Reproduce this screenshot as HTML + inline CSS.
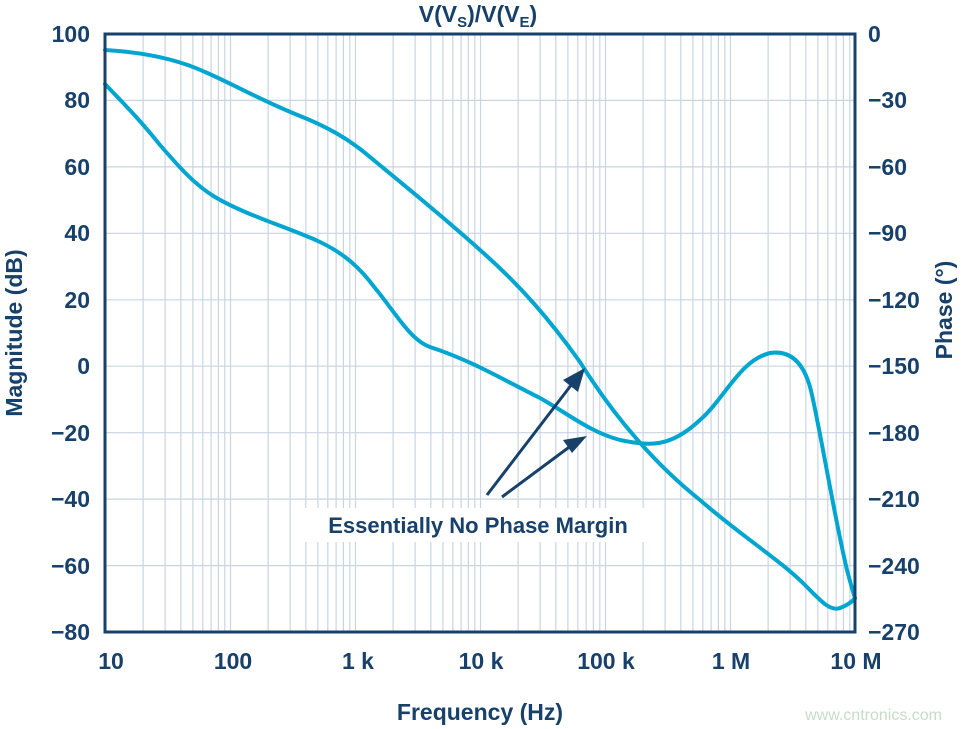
<!DOCTYPE html>
<html><head><style>body{margin:0;background:#fff}svg{display:block}text{font-family:"Liberation Sans",sans-serif;font-weight:bold;fill:#17406a}</style></head>
<body>
<svg width="963" height="729" viewBox="0 0 963 729" xmlns="http://www.w3.org/2000/svg">
<path fill="none" stroke="#c9d5e2" stroke-width="1.2" d="M143.1,34V632M165.1,34V632M180.8,34V632M192.9,34V632M202.8,34V632M211.1,34V632M218.4,34V632M224.8,34V632M230.5,34V632
M268.1,34V632M290.1,34V632M305.8,34V632M317.9,34V632M327.8,34V632M336.1,34V632M343.4,34V632M349.8,34V632M355.5,34V632
M393.1,34V632M415.1,34V632M430.8,34V632M442.9,34V632M452.8,34V632M461.1,34V632M468.4,34V632M474.8,34V632M480.5,34V632
M518.1,34V632M540.1,34V632M555.8,34V632M567.9,34V632M577.8,34V632M586.1,34V632M593.4,34V632M599.8,34V632M605.5,34V632
M643.1,34V632M665.1,34V632M680.8,34V632M692.9,34V632M702.8,34V632M711.1,34V632M718.4,34V632M724.8,34V632M730.5,34V632
M768.1,34V632M790.1,34V632M805.8,34V632M817.9,34V632M827.8,34V632M836.1,34V632M843.4,34V632M849.8,34V632
M105,100.4H855M105,166.9H855M105,233.3H855M105,299.8H855M105,366.2H855M105,432.7H855M105,499.1H855M105,565.6H855"/>
<g fill="none" stroke="#00a6d0" stroke-width="4" stroke-linejoin="round" stroke-linecap="round">
<path d="M105,50 C140,52 175,58 205,72 C235,85 260,100 300,116 C330,128 350,140 370,157 C400,182 440,214 480,250 C520,285 550,320 580,362 C610,410 650,460 700,500 C740,535 780,560 805,585 C820,600 830,612 840,608 C848,605 852,602 855,598"/>
<path d="M105,84 C125,105 140,120 160,145 C180,168 195,185 215,197 C245,215 290,228 320,242 C345,254 360,268 375,288 C395,312 410,340 430,347 C470,360 500,378 540,398 C570,415 590,432 620,440 C650,446 670,448 700,420 C725,398 740,360 770,353 C790,350 805,362 812,395 C822,440 835,520 847,570 C851,585 853,592 855,598"/>
</g>
<rect x="105" y="34" width="750" height="598" fill="none" stroke="#17406a" stroke-width="3"/>
<g stroke="#17406a" stroke-width="3"><line x1="487" y1="495" x2="572" y2="384"/><line x1="502" y1="497" x2="572" y2="445"/></g>
<g fill="#17406a"><polygon points="585,368 563,380 578,392"/><polygon points="587,436 563,440 572,453"/></g>
<rect x="302" y="508" width="352" height="34" fill="#fff"/>
<text x="478" y="533" font-size="22" text-anchor="middle">Essentially No Phase Margin</text>
<text x="478" y="22" font-size="23" text-anchor="middle">V(V<tspan font-size="15" dy="5">S</tspan><tspan dy="-5">)/V(V</tspan><tspan font-size="15" dy="5">E</tspan><tspan dy="-5">)</tspan></text>
<g font-size="23" text-anchor="end">
<text x="90" y="42">100</text><text x="90" y="108">80</text><text x="90" y="175">60</text><text x="90" y="241">40</text><text x="90" y="308">20</text><text x="90" y="374">0</text><text x="90" y="441">−20</text><text x="90" y="507">−40</text><text x="90" y="574">−60</text><text x="90" y="640">−80</text>
</g>
<g font-size="23" text-anchor="start">
<text x="868" y="42">0</text><text x="868" y="108">−30</text><text x="868" y="175">−60</text><text x="868" y="241">−90</text><text x="868" y="308">−120</text><text x="868" y="374">−150</text><text x="868" y="441">−180</text><text x="868" y="507">−210</text><text x="868" y="574">−240</text><text x="868" y="640">−270</text>
</g>
<g font-size="23" text-anchor="middle">
<text x="111" y="669">10</text><text x="233" y="669">100</text><text x="358" y="669">1 k</text><text x="481" y="669">10 k</text><text x="606" y="669">100 k</text><text x="731" y="669">1 M</text><text x="856" y="669">10 M</text>
</g>
<text x="480" y="720" font-size="23" text-anchor="middle">Frequency (Hz)</text>
<text transform="translate(22,333) rotate(-90)" font-size="23" text-anchor="middle">Magnitude (dB)</text>
<text transform="translate(952,310) rotate(-90)" font-size="23" text-anchor="middle">Phase (°)</text>
<text x="942" y="720" font-size="16" text-anchor="end" style="fill:#c5dcc8;font-weight:normal">www.cntronics.com</text>
</svg>
</body></html>
